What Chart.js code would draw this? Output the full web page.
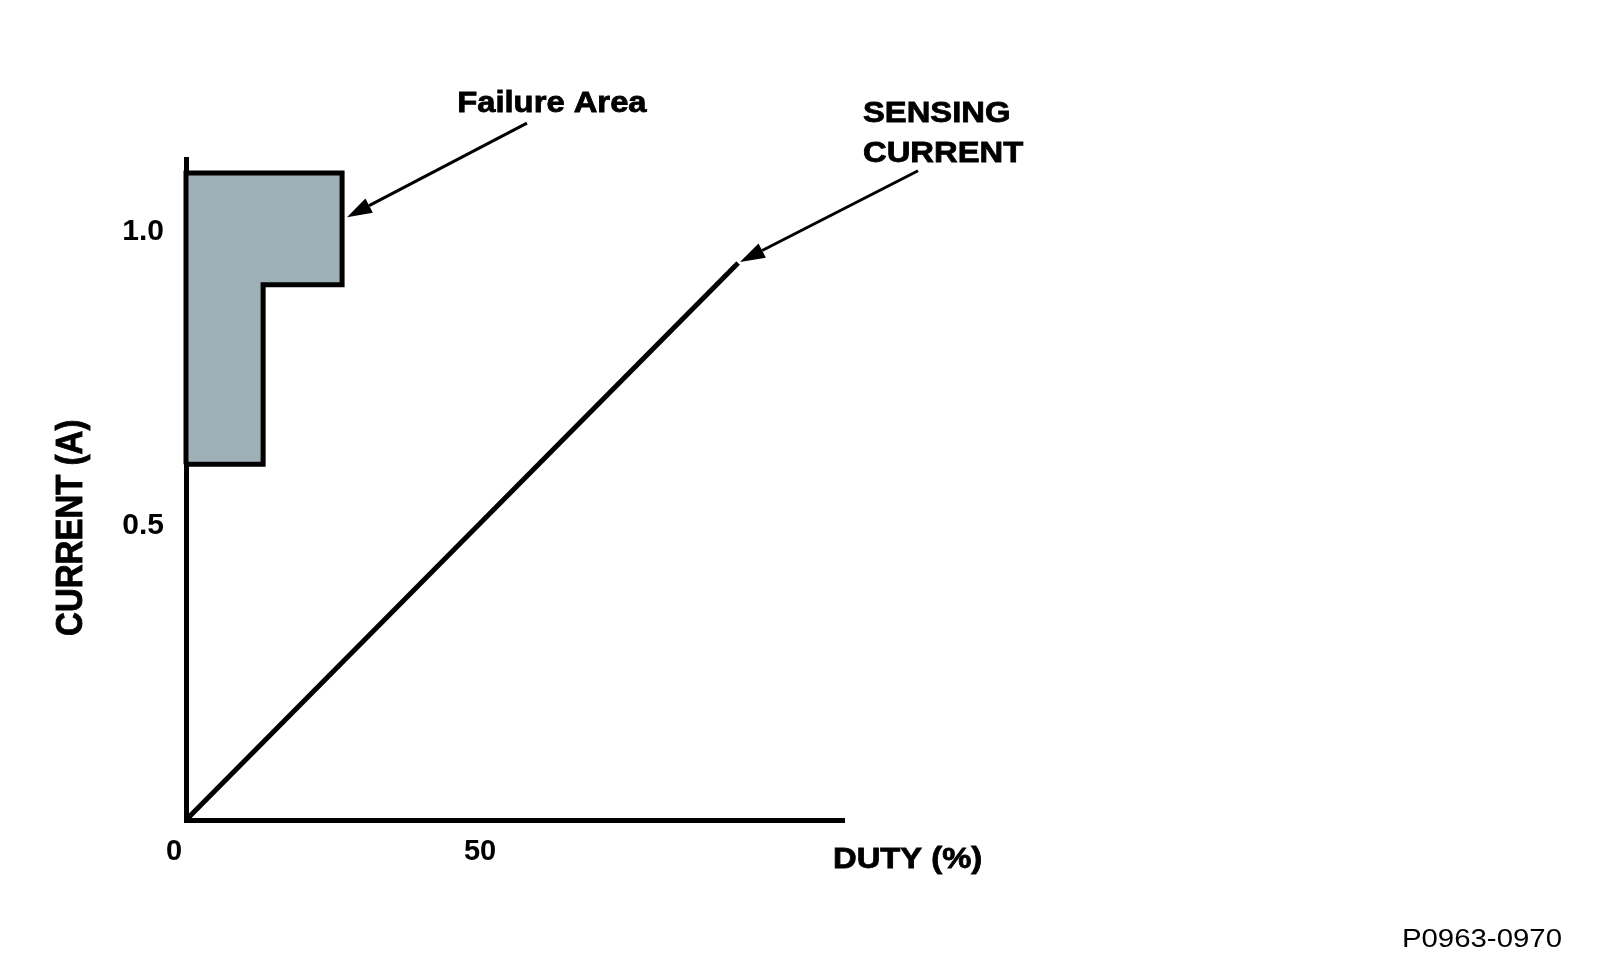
<!DOCTYPE html>
<html>
<head>
<meta charset="utf-8">
<style>
  html, body { margin: 0; padding: 0; background: #fff; }
  canvas { display: block; }
</style>
<script src="https://cdn.jsdelivr.net/npm/chart.js@4/dist/chart.umd.min.js"></script>
</head>
<body>
<canvas id="chart" width="1600" height="970"></canvas>
<script>
// Sensing current line (DUTY % -> CURRENT A)
const dutyPct = [0, 90.2];
const sensingAmps = [0, 0.947];

// Failure area outline, walked round from the bottom-left corner
const failDuty = [0, 12.6, 12.6, 25.5, 25.5, 0, 0];
const failAmps = [0.605, 0.605, 0.91, 0.91, 1.1, 1.1, 0.605];

// Axis ticks
const xTicks = [0, 50];
const yTicks = [0.5, 1.0];
const xMax = 107.5;
const yMax = 1.124;

// Callout texts and arrows, in data units
const notes = [
  { lines: ['Failure Area'], x: 44.3, y: 1.217 },
  { lines: ['SENSING', 'CURRENT'], x: 110.6, y: 1.201 }
];
const arrows = [
  { from: [55.7, 1.185], to: [26.3, 1.025] },
  { from: [119.6, 1.104], to: [90.5, 0.949] }
];
const xTitle = { text: 'DUTY (%)', x: 105.7, y: -0.068 };
const yTitle = { text: 'CURRENT (A)', x: -18.6, y: 0.497 };
const figureId = 'P0963-0970';

const FONT = '"Liberation Sans", Arial, Helvetica, sans-serif';
const STRETCH = 1.13; // the source figure is a little wider than tall

function toPoints(xs, ys) {
  return xs.map((x, i) => ({ x: x, y: ys[i] }));
}

function stretchedText(ctx, text, px, py, align, heavy) {
  ctx.save();
  ctx.translate(px, py);
  ctx.scale(STRETCH, 1);
  ctx.textAlign = align;
  ctx.fillText(text, 0, 0);
  if (heavy) {
    ctx.lineWidth = 0.8;
    ctx.strokeStyle = '#000';
    ctx.strokeText(text, 0, 0);
  }
  ctx.restore();
}

function drawArrow(ctx, x1, y1, x2, y2) {
  const ang = Math.atan2(y2 - y1, x2 - x1);
  const headLen = 25;
  const headW = 8;
  const bx = x2 - headLen * Math.cos(ang);
  const by = y2 - headLen * Math.sin(ang);
  ctx.beginPath();
  ctx.moveTo(x1, y1);
  ctx.lineTo(bx, by);
  ctx.lineWidth = 3;
  ctx.strokeStyle = '#000';
  ctx.stroke();
  ctx.beginPath();
  ctx.moveTo(x2, y2);
  ctx.lineTo(bx + headW * Math.sin(ang), by - headW * Math.cos(ang));
  ctx.lineTo(bx - headW * Math.sin(ang), by + headW * Math.cos(ang));
  ctx.closePath();
  ctx.fillStyle = '#000';
  ctx.fill();
}

// Draws titles, callouts and arrows on top of the chart
const annotations = {
  id: 'annotations',
  afterDraw(chart) {
    const ctx = chart.ctx;
    const xs = chart.scales.x;
    const ys = chart.scales.y;
    ctx.save();
    ctx.fillStyle = '#000';
    ctx.textBaseline = 'middle';
    ctx.font = 'bold 29px ' + FONT;

    notes.forEach(n => {
      const px = xs.getPixelForValue(n.x);
      const py = ys.getPixelForValue(n.y);
      n.lines.forEach((line, i) => stretchedText(ctx, line, px, py + i * 40, 'left', true));
    });

    arrows.forEach(a => {
      drawArrow(ctx,
        xs.getPixelForValue(a.from[0]), ys.getPixelForValue(a.from[1]),
        xs.getPixelForValue(a.to[0]), ys.getPixelForValue(a.to[1]));
    });

    stretchedText(ctx, xTitle.text, xs.getPixelForValue(xTitle.x), ys.getPixelForValue(xTitle.y), 'left', true);

    // rotated y title
    ctx.save();
    ctx.translate(xs.getPixelForValue(yTitle.x), ys.getPixelForValue(yTitle.y));
    ctx.scale(STRETCH, 1);
    ctx.rotate(-Math.PI / 2);
    ctx.font = 'bold 33px ' + FONT;
    ctx.textAlign = 'center';
    ctx.fillText(yTitle.text, 0, 0);
    ctx.lineWidth = 0.8;
    ctx.strokeText(yTitle.text, 0, 0);
    ctx.restore();

    // figure number, bottom right
    ctx.font = '26px ' + FONT;
    stretchedText(ctx, figureId, 1562, 940, 'right', false);
    ctx.restore();
  }
};

new Chart(document.getElementById('chart'), {
  type: 'scatter',
  data: {
    datasets: [
      {
        label: 'Failure Area',
        data: toPoints(failDuty, failAmps),
        showLine: true,
        fill: 'shape',
        backgroundColor: '#9eb0b6',
        borderColor: '#000',
        borderWidth: 5,
        borderJoinStyle: 'miter',
        pointRadius: 0,
        tension: 0,
        clip: false
      },
      {
        label: 'Sensing Current',
        data: toPoints(dutyPct, sensingAmps),
        showLine: true,
        fill: false,
        borderColor: '#000',
        borderWidth: 5,
        pointRadius: 0,
        tension: 0,
        clip: false
      }
    ]
  },
  options: {
    responsive: false,
    animation: false,
    layout: { padding: { top: 159, right: 756, left: 0, bottom: 0 } },
    plugins: {
      legend: { display: false },
      tooltip: { enabled: false }
    },
    scales: {
      x: {
        type: 'linear',
        min: 0,
        max: xMax,
        grid: { display: false, drawTicks: false },
        border: { display: true, color: '#000', width: 5 },
        afterBuildTicks: s => { s.ticks = xTicks.map(v => ({ value: v })); },
        afterFit: s => { s.height = 150; },
        ticks: {
          color: '#000',
          font: { family: FONT, size: 29, weight: 'bold' },
          padding: 15,
          labelOffset: -12,
          maxRotation: 0,
          callback: v => String(v)
        }
      },
      y: {
        type: 'linear',
        min: 0,
        max: yMax,
        grid: { display: false, drawTicks: false },
        border: { display: true, color: '#000', width: 5 },
        afterBuildTicks: s => { s.ticks = yTicks.map(v => ({ value: v })); },
        afterFit: s => { s.width = 186; },
        ticks: {
          color: '#000',
          font: { family: FONT, size: 30, weight: 'bold' },
          padding: 22,
          callback: v => v.toFixed(1)
        }
      }
    }
  },
  plugins: [annotations]
});
</script>
</body>
</html>
